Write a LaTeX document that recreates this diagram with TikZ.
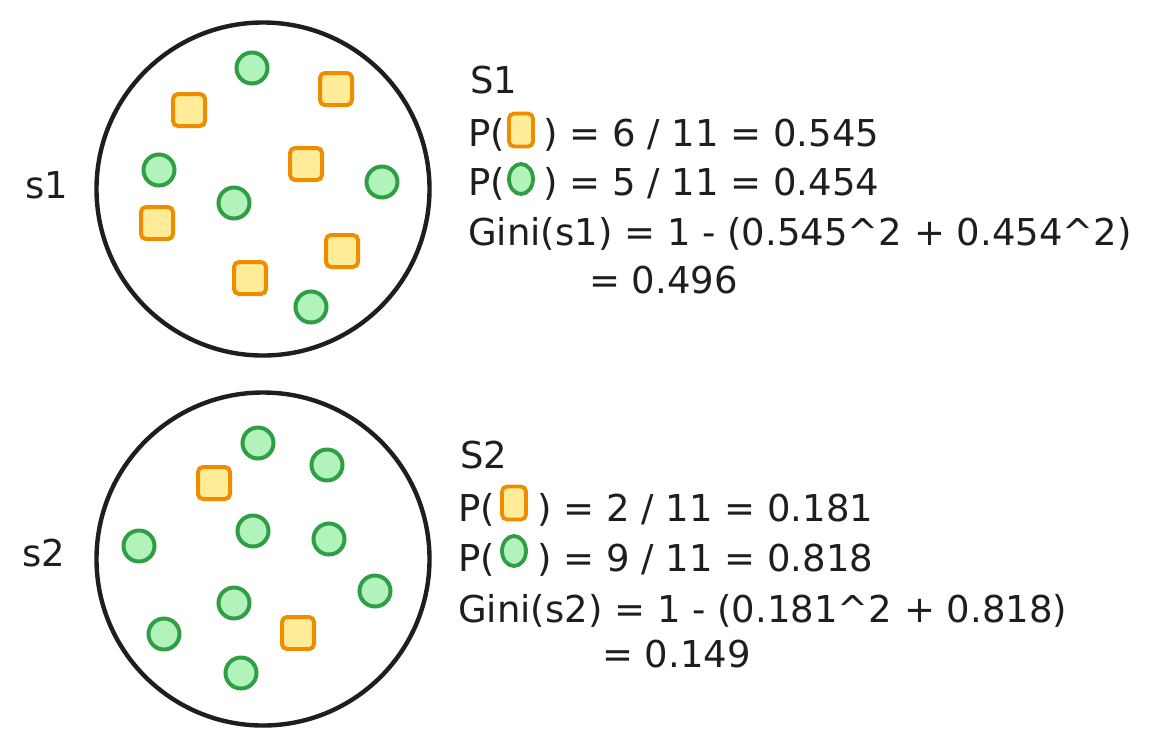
\documentclass[tikz,border=0pt]{standalone}
\usepackage{fontspec}
\setmainfont{DejaVu Sans}
\definecolor{ink}{HTML}{1E1E1E}
\definecolor{orst}{HTML}{F08C00}
\definecolor{orfl}{HTML}{FFEC99}
\definecolor{grst}{HTML}{2F9E44}
\definecolor{grfl}{HTML}{B2F2BB}
\tikzset{
  txt/.style={inner sep=0pt, anchor=base west, text=ink, font=\fontsize{37}{44}\selectfont},
  bigcirc/.style={circle, draw=ink, line width=4.4pt, minimum size=333pt, inner sep=0pt},
  gdot/.style={circle, draw=grst, fill=grfl, line width=4pt, minimum size=31pt, inner sep=0pt},
  osq/.style={rectangle, rounded corners=5pt, draw=orst, fill=orfl, line width=4pt, minimum size=32pt, inner sep=0pt},
  gicon/.style={ellipse, draw=grst, fill=grfl, line width=3.8pt, minimum width=24pt, minimum height=30pt, inner sep=0pt},
  oicon/.style={rectangle, rounded corners=5pt, draw=orst, fill=orfl, line width=3.8pt, minimum width=24pt, minimum height=33pt, inner sep=0pt}
}
\usetikzlibrary{shapes.geometric}
\begin{document}
\begin{tikzpicture}[x=1pt,y=-1pt]
\useasboundingbox (0,0) rectangle (1153,745);
% set 1
\node[bigcirc] (c1) at (263,189) {};
\node[gdot] (g11) at (252,68) {};
\node[gdot] (g12) at (159,170) {};
\node[gdot] (g13) at (234,203) {};
\node[gdot] (g14) at (382,182) {};
\node[gdot] (g15) at (311,307) {};
\node[osq] (o11) at (336,89) {};
\node[osq] (o12) at (189,110) {};
\node[osq] (o13) at (306,164) {};
\node[osq] (o14) at (157,223) {};
\node[osq] (o15) at (342,251) {};
\node[osq] (o16) at (250,278) {};
\node[txt] (l1) at (25,198) {s1};
% set 2
\node[bigcirc] (c2) at (263,559) {};
\node[gdot] (g21) at (258,443) {};
\node[gdot] (g22) at (327,465) {};
\node[gdot] (g23) at (253,531) {};
\node[gdot] (g24) at (329,539) {};
\node[gdot] (g25) at (139,546) {};
\node[gdot] (g26) at (375,591) {};
\node[gdot] (g27) at (234,603) {};
\node[gdot] (g28) at (164,634) {};
\node[gdot] (g29) at (241,673) {};
\node[osq] (o21) at (214,483) {};
\node[osq] (o22) at (298,633) {};
\node[txt] (l2) at (22,566) {s2};
% text block 1
\node[txt] (t10) at (470,93) {S1};
\node[txt] (t11a) at (468,146) {P(};
\node[oicon] (t11i) at (521,130) {};
\node[txt] (t11b) at (543,146) {) = 6 / 11 = 0.545};
\node[txt] (t12a) at (468,195) {P(};
\node[gicon] (t12i) at (521,179) {};
\node[txt] (t12b) at (543,195) {) = 5 / 11 = 0.454};
\node[txt] (t13) at (468,245) {Gini(s1) = 1 - (0.545\textasciicircum2 + 0.454\textasciicircum2)};
\node[txt] (t14) at (589,293) {= 0.496};
% text block 2
\node[txt] (t20) at (460,468) {S2};
\node[txt] (t21a) at (458,521) {P(};
\node[oicon] (t21i) at (514,503) {};
\node[txt] (t21b) at (537,521) {) = 2 / 11 = 0.181};
\node[txt] (t22a) at (458,571) {P(};
\node[gicon] (t22i) at (514,551) {};
\node[txt] (t22b) at (537,571) {) = 9 / 11 = 0.818};
\node[txt] (t23) at (458,622) {Gini(s2) = 1 - (0.181\textasciicircum2 + 0.818)};
\node[txt] (t24) at (602,667) {= 0.149};
\end{tikzpicture}
\end{document}
